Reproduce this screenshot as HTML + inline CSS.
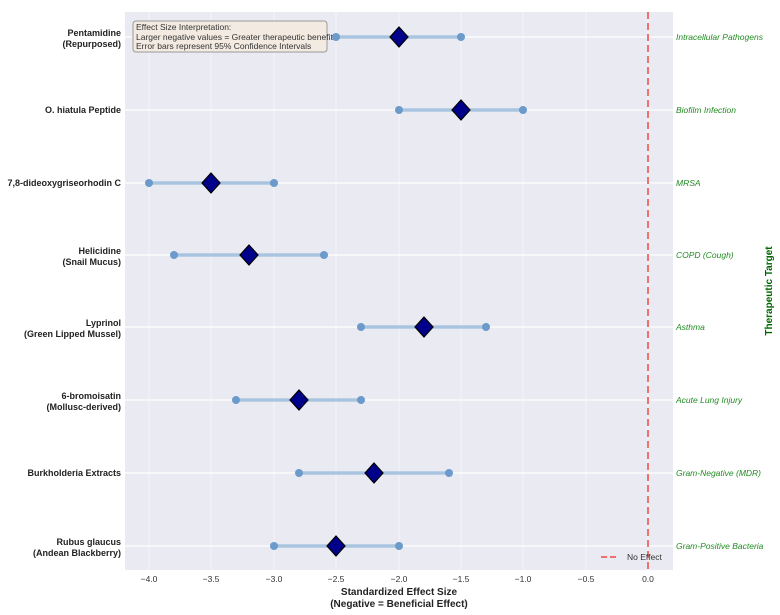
<!DOCTYPE html>
<html><head><style>body{margin:0;background:#fff}svg{display:block;font-family:"Liberation Sans",sans-serif}</style></head><body>
<svg width="780" height="615" xmlns="http://www.w3.org/2000/svg">
<rect x="125" y="12" width="548" height="558" fill="#eaeaf2"/>
<g stroke="#f4f4f8" stroke-width="1">
<line x1="149" y1="12" x2="149" y2="570"/><line x1="211" y1="12" x2="211" y2="570"/><line x1="274" y1="12" x2="274" y2="570"/><line x1="336" y1="12" x2="336" y2="570"/><line x1="399" y1="12" x2="399" y2="570"/><line x1="461" y1="12" x2="461" y2="570"/><line x1="523" y1="12" x2="523" y2="570"/><line x1="586" y1="12" x2="586" y2="570"/><line x1="648" y1="12" x2="648" y2="570"/>
</g>
<g stroke="#fff" stroke-width="1.3">
<line x1="125" y1="37" x2="673" y2="37"/><line x1="125" y1="110" x2="673" y2="110"/><line x1="125" y1="183" x2="673" y2="183"/><line x1="125" y1="255" x2="673" y2="255"/><line x1="125" y1="327" x2="673" y2="327"/><line x1="125" y1="400" x2="673" y2="400"/><line x1="125" y1="473" x2="673" y2="473"/><line x1="125" y1="546" x2="673" y2="546"/>
</g>
<line x1="648" y1="12" x2="648" y2="570" stroke="#f07070" stroke-width="2" stroke-dasharray="7,4"/>
<g id="rows">
<!-- y, lo, hi, mid -->
</g>
<g stroke="#a9c4e0" stroke-width="3.5">
<line x1="336" y1="37" x2="461" y2="37"/><line x1="399" y1="110" x2="523" y2="110"/><line x1="149" y1="183" x2="274" y2="183"/><line x1="174" y1="255" x2="324" y2="255"/><line x1="361" y1="327" x2="486" y2="327"/><line x1="236" y1="400" x2="361" y2="400"/><line x1="299" y1="473" x2="449" y2="473"/><line x1="274" y1="546" x2="399" y2="546"/>
</g>
<g fill="#6b9acb">
<circle cx="336" cy="37" r="4"/><circle cx="461" cy="37" r="4"/><circle cx="399" cy="110" r="4"/><circle cx="523" cy="110" r="4"/><circle cx="149" cy="183" r="4"/><circle cx="274" cy="183" r="4"/><circle cx="174" cy="255" r="4"/><circle cx="324" cy="255" r="4"/><circle cx="361" cy="327" r="4"/><circle cx="486" cy="327" r="4"/><circle cx="236" cy="400" r="4"/><circle cx="361" cy="400" r="4"/><circle cx="299" cy="473" r="4"/><circle cx="449" cy="473" r="4"/><circle cx="274" cy="546" r="4"/><circle cx="399" cy="546" r="4"/>
</g>
<g fill="#00008b" stroke="#000" stroke-width="1.2">
<path d="M399 27 L408 37 L399 47 L390 37Z"/><path d="M461 100 L470 110 L461 120 L452 110Z"/><path d="M211 173 L220 183 L211 193 L202 183Z"/><path d="M249 245 L258 255 L249 265 L240 255Z"/><path d="M424 317 L433 327 L424 337 L415 327Z"/><path d="M299 390 L308 400 L299 410 L290 400Z"/><path d="M374 463 L383 473 L374 483 L365 473Z"/><path d="M336 536 L345 546 L336 556 L327 546Z"/>
</g>
<rect x="133" y="21" width="194" height="31" rx="3" fill="#f3ebe1" stroke="#999" stroke-width="1"/>
<g font-size="8.5" fill="#333"><text x="136" y="30">Effect Size Interpretation:</text><text x="136" y="40">Larger negative values = Greater therapeutic benefit</text><text x="136" y="49">Error bars represent 95% Confidence Intervals</text></g>
<g font-size="9" font-weight="bold" fill="#222" text-anchor="end">
<text x="121" y="36">Pentamidine</text><text x="121" y="47">(Repurposed)</text>
<text x="121" y="113">O. hiatula Peptide</text>
<text x="121" y="186">7,8-dideoxygriseorhodin C</text>
<text x="121" y="254">Helicidine</text><text x="121" y="265">(Snail Mucus)</text>
<text x="121" y="326">Lyprinol</text><text x="121" y="337">(Green Lipped Mussel)</text>
<text x="121" y="399">6-bromoisatin</text><text x="121" y="410">(Mollusc-derived)</text>
<text x="121" y="476">Burkholderia Extracts</text>
<text x="121" y="545">Rubus glaucus</text><text x="121" y="556">(Andean Blackberry)</text>
</g>
<g font-size="8.5" font-style="italic" fill="#228b22">
<text x="676" y="40">Intracellular Pathogens</text><text x="676" y="113">Biofilm Infection</text><text x="676" y="186">MRSA</text><text x="676" y="258">COPD (Cough)</text><text x="676" y="330">Asthma</text><text x="676" y="403">Acute Lung Injury</text><text x="676" y="476">Gram-Negative (MDR)</text><text x="676" y="549">Gram-Positive Bacteria</text>
</g>
<text transform="translate(772,291) rotate(-90)" font-size="10" font-weight="bold" fill="#006400" text-anchor="middle">Therapeutic Target</text>
<g font-size="8.5" fill="#333" text-anchor="middle">
<text x="149" y="582">−4.0</text><text x="211" y="582">−3.5</text><text x="274" y="582">−3.0</text><text x="336" y="582">−2.5</text><text x="399" y="582">−2.0</text><text x="461" y="582">−1.5</text><text x="523" y="582">−1.0</text><text x="586" y="582">−0.5</text><text x="648" y="582">0.0</text>
</g>
<g font-size="10" font-weight="bold" fill="#222" text-anchor="middle"><text x="399" y="595">Standardized Effect Size</text><text x="399" y="607">(Negative = Beneficial Effect)</text></g>
<line x1="601" y1="557" x2="619" y2="557" stroke="#f07070" stroke-width="2" stroke-dasharray="6,3"/>
<text x="627" y="560" font-size="8.5" fill="#333">No Effect</text>
</svg>
</body></html>
